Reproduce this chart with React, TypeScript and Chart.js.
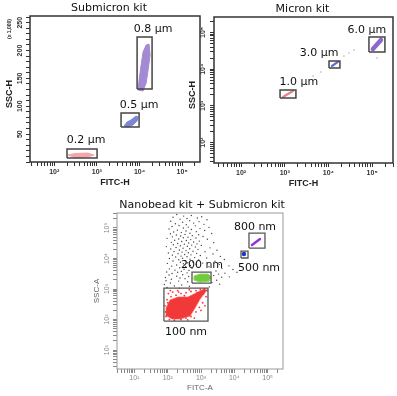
import React, { useEffect, useRef } from 'react';
import { Chart, registerables } from 'chart.js';

Chart.register(...registerables);

const LABEL_FONT = '"DejaVu Sans", Verdana, sans-serif';
const AXIS_FONT = '"Liberation Sans Narrow", "Liberation Sans", Arial, sans-serif';
const PLAIN_FONT = '"Liberation Sans", Arial, sans-serif';

// ---------------- Panel 1: Submicron kit ----------------
const p1Title = 'Submicron kit';
const p1XTitle = 'FITC-H';
const p1YTitle = 'SSC-H';
const p1YUnit = '(x 1,000)';
const p1XMin = 27;
const p1XMax = 262144;
const p1YMin = 0;
const p1YMax = 262;
const p1YStep = 10;
const p1XMajor = [1e2, 1e3, 1e4, 1e5];
const p1XLabels = ['10²', '10³', '10⁴', '10⁵'];
const p1YMajor = [50, 100, 150, 200, 250];
const p1YLabels = ['50', '100', '150', '200', '250'];

const p1GateNames = ['0.2 μm', '0.5 μm', '0.8 μm'];
const p1GateXMin = [199, 3690, 8770];
const p1GateXMax = [1010, 9770, 19700];
const p1GateYMin = [7.2, 62.8, 131];
const p1GateYMax = [23.3, 87.9, 224.3];
const p1LabelX = [557, 9800, 20800];
const p1LabelY = [39.5, 102, 239];

const p1Bead02X = [210, 307, 620, 857, 620, 307];
const p1Bead02Y = [12.6, 15.3, 16.1, 12.6, 9.0, 8.1];
const p1Bead05X = [4350, 5110, 6340, 8300, 9250, 8770, 7070, 5380];
const p1Bead05Y = [64.6, 71.8, 75.4, 82.5, 80.7, 73.6, 66.4, 62.8];
const p1Bead08X = [9250, 9770, 10900, 12100, 14300, 16700, 17700, 15900, 14300, 12100];
const p1Bead08Y = [129.2, 147.1, 174.1, 197.4, 209.9, 211.7, 192.0, 165.1, 141.8, 127.4];

// ---------------- Panel 2: Micron kit ----------------
const p2Title = 'Micron kit';
const p2XTitle = 'FITC-H';
const p2YTitle = 'SSC-H';
const p2XMin = 24;
const p2XMax = 300000;
const p2YMin = 28;
const p2YMax = 262144;
const p2XMajor = [1e2, 1e3, 1e4, 1e5];
const p2XLabels = ['10²', '10³', '10⁴', '10⁵'];
const p2YMajor = [1e2, 1e3, 1e4, 1e5];
const p2YLabels = ['10²', '10³', '10⁴', '10⁵'];

const p2GateNames = ['1.0 μm', '3.0 μm', '6.0 μm'];
const p2GateXMin = [780, 10300, 84500];
const p2GateXMax = [1800, 18300, 196000];
const p2GateYMin = [1650, 10800, 29300];
const p2GateYMax = [2720, 16700, 75000];
const p2LabelX = [2110, 6070, 76000];
const p2LabelY = [4490, 27500, 116000];

const p2Bead10X = [910, 1540];
const p2Bead10Y = [1750, 2550];
const p2Bead30X = [12000, 16500];
const p2Bead30Y = [12200, 15700];
const p2Bead60X = [104000, 159000];
const p2Bead60Y = [35300, 62100];
const p2DebrisX = [22600, 29500, 38400, 6740, 129000, 4420];
const p2DebrisY = [22800, 27500, 33200, 8370, 20100, 6530];

// ---------------- Panel 3: Nanobead kit + Submicron kit ----------------
const p3Title = 'Nanobead kit + Submicron kit';
const p3XTitle = 'FITC-A';
const p3YTitle = 'SSC-A';
const p3XMin = 3;
const p3XMax = 290000;
const p3YMin = 2.4;
const p3YMax = 310000;
const p3XMajor = [1e1, 1e2, 1e3, 1e4, 1e5];
const p3XLabels = ['10¹', '10²', '10³', '10⁴', '10⁵'];
const p3YMajor = [1e1, 1e2, 1e3, 1e4, 1e5];
const p3YLabels = ['10¹', '10²', '10³', '10⁴', '10⁵'];

const p3GateNames = ['100 nm', '200 nm', '500 nm', '800 nm'];
const p3GateXMin = [77, 536, 15900, 27600];
const p3GateXMax = [1620, 2000, 25800, 83400];
const p3GateYMin = [89, 1570, 10400, 22000];
const p3GateYMax = [1070, 3600, 17500, 68200];
const p3LabelX = [354, 1070, 55100, 41800];
const p3LabelY = [38.7, 6090, 4860, 107000];

const p3Bead100X = [95, 89, 117, 204, 406, 706, 1230, 1510, 933, 659, 467, 234, 135];
const p3Bead100Y = [130, 237, 434, 545, 545, 736, 995, 923, 468, 237, 130, 104, 104];
const p3Bead200X = [615, 933, 1620, 2000, 1740, 933, 615];
const p3Bead200Y = [2650, 3090, 3090, 2460, 1820, 1690, 1960];
const p3Bead500X = [19500];
const p3Bead500Y = [14000];
const p3Bead800X = [34000, 59000];
const p3Bead800Y = [27600, 43500];

// events given as decades [log10 FITC-A, log10 SSC-A]
const p3Bead100Events: [number, number][] = [
  [1.95, 2.1], [2.05, 2.0], [2.2, 1.98], [2.4, 2.0], [2.55, 2.05], [2.7, 2.1], [2.85, 2.25], [2.95, 2.4],
  [3.05, 2.55], [3.15, 2.75], [3.18, 2.95], [3.1, 3.0], [2.98, 2.98], [2.85, 2.95], [2.7, 2.92], [2.55, 2.88],
  [2.4, 2.85], [2.25, 2.8], [2.1, 2.75], [1.98, 2.65], [1.92, 2.45], [1.93, 2.25], [2.0, 2.55], [2.15, 2.9],
  [2.3, 2.95], [2.65, 2.98], [2.9, 2.6], [3.0, 2.3], [2.8, 2.05], [2.6, 1.99], [2.12, 2.18], [2.78, 2.7],
  [3.08, 2.85], [2.95, 2.8], [2.88, 2.88], [2.02, 2.85], [2.33, 2.9], [2.5, 2.78], [2.08, 2.95], [3.12, 2.45],
];
const p3DebrisEvents: [number, number][] = [
  [2.27, 5.44], [2.71, 5.41], [2.48, 5.39], [3.02, 5.37], [2.16, 5.35], [2.89, 5.33], [2.58, 5.31], [2.37, 5.29], [3.18, 5.27],
  [2.66, 5.24], [2.09, 5.22], [2.94, 5.21], [2.45, 5.19], [2.78, 5.16], [2.23, 5.14], [3.09, 5.12], [2.56, 5.11],
  [2.34, 5.08], [2.83, 5.07], [2.13, 5.05], [2.62, 5.03], [3.24, 5.02], [2.47, 5.0], [2.97, 4.98], [2.04, 4.97], [2.71, 4.95],
  [2.29, 4.93], [3.11, 4.92], [2.55, 4.9], [2.86, 4.88], [2.18, 4.87], [2.41, 4.85], [2.67, 4.83], [3.32, 4.82], [2.08, 4.81],
  [2.52, 4.79], [2.93, 4.78], [2.26, 4.77], [2.74, 4.75], [2.39, 4.74], [3.06, 4.72], [2.14, 4.71], [2.61, 4.7], [2.47, 4.68],
  [2.85, 4.67], [1.98, 4.66], [2.33, 4.64], [3.19, 4.63], [2.69, 4.62], [2.21, 4.6], [2.56, 4.59], [2.95, 4.57], [2.42, 4.56],
  [2.78, 4.54], [2.11, 4.53], [3.38, 4.52], [2.63, 4.51],
  [2.3, 4.49], [2.88, 4.48], [2.5, 4.47], [2.17, 4.45], [2.72, 4.44], [3.01, 4.43], [2.38, 4.42], [2.59, 4.4], [1.96, 4.39],
  [2.83, 4.38], [2.25, 4.36], [3.27, 4.35], [2.46, 4.34], [2.66, 4.32], [2.09, 4.31], [2.91, 4.3], [2.35, 4.28], [3.48, 4.27],
  [2.55, 4.26], [2.76, 4.24], [2.19, 4.23], [3.12, 4.22], [2.43, 4.21],
  [2.62, 4.19], [2.02, 4.18], [2.87, 4.17], [2.31, 4.16], [3.36, 4.15], [2.51, 4.13], [2.7, 4.12], [2.14, 4.11], [2.98, 4.1],
  [2.4, 4.08], [3.58, 4.07], [2.58, 4.06], [2.24, 4.05], [2.81, 4.03], [3.17, 4.02], [2.45, 4.01], [2.05, 4.0], [2.67, 3.98],
  [3.7, 3.97], [2.33, 3.96], [2.93, 3.95], [2.53, 3.93], [2.16, 3.92], [3.42, 3.91],
  [2.75, 3.89], [2.38, 3.88], [2.6, 3.86], [3.05, 3.85], [1.99, 3.84], [2.47, 3.83], [2.85, 3.81], [3.55, 3.8], [2.27, 3.79],
  [2.68, 3.77], [3.84, 3.76], [2.12, 3.75], [2.54, 3.74], [3.24, 3.73], [2.92, 3.71], [2.36, 3.7], [2.73, 3.68], [3.63, 3.67],
  [2.05, 3.66], [2.49, 3.65], [3.96, 3.64], [2.22, 3.62], [2.64, 3.61],
  [3.45, 3.59], [2.41, 3.58], [1.97, 3.56], [2.3, 3.55], [2.58, 3.53], [3.72, 3.52], [2.13, 3.51], [3.53, 3.49], [2.45, 3.47],
  [2.04, 3.46], [4.08, 3.55], [3.38, 3.44], [2.27, 3.42], [2.63, 3.41], [3.62, 3.39], [1.93, 3.38], [2.37, 3.36], [3.85, 3.4],
  [2.52, 3.34], [2.11, 3.32],
  [3.47, 3.29], [1.95, 3.27], [2.33, 3.26], [2.6, 3.24], [3.33, 3.22], [2.08, 3.2], [1.9, 3.15], [2.42, 3.13], [3.56, 3.16],
  [2.2, 3.1], [2.65, 3.09], [1.98, 3.05], [2.35, 3.03], [3.25, 3.07],
];

// ---------------- helpers ----------------
function logTickValues(min: number, max: number): number[] {
  const out: number[] = [];
  for (let e = Math.floor(Math.log10(min)); e <= Math.ceil(Math.log10(max)); e++) {
    for (let s = 1; s <= 9; s++) {
      const v = s * Math.pow(10, e);
      if (v >= min && v <= max) out.push(v);
    }
  }
  return out;
}
function linTickValues(min: number, max: number, step: number): number[] {
  const out: number[] = [];
  for (let v = min; v <= max + 1e-9; v += step) out.push(v);
  return out;
}
const pts = (xs: number[], ys: number[]) => xs.map((x, i) => ({ x, y: ys[i] }));
const ring = (xs: number[], ys: number[]) => {
  const p = pts(xs, ys);
  p.push({ x: xs[0], y: ys[0] });
  return p;
};
const fromDecades = (ev: [number, number][]) => ev.map(([a, b]) => ({ x: Math.pow(10, a), y: Math.pow(10, b) }));

const polySet = (data: any[], color: string, edge?: string) => ({
  data, showLine: true, fill: 'shape', backgroundColor: color, borderColor: edge || color,
  borderWidth: 1, pointRadius: 0, tension: 0,
});
const streakSet = (data: any[], color: string, w: number) => ({
  data, showLine: true, fill: false, borderColor: color, borderWidth: w, borderCapStyle: 'round',
  pointRadius: 0, tension: 0,
});
const dotSet = (data: any[], color: string, r: number) => ({
  data, showLine: false, pointRadius: r, backgroundColor: color, borderWidth: 0,
});
const gateSets = (xmin: number[], xmax: number[], ymin: number[], ymax: number[], color: string, w: number) =>
  xmin.map((_, i) => ({
    data: ring([xmin[i], xmax[i], xmax[i], xmin[i]], [ymin[i], ymin[i], ymax[i], ymax[i]]),
    showLine: true, fill: false, borderColor: color, borderWidth: w, pointRadius: 0, tension: 0,
  }));

type AxisSpec = { type: string; min: number; max: number; step?: number; major: number[]; labels: string[] };
type Style = {
  tickColor: string; tickFont: any; tickFontStr: string; tickPad: number;
  frameColor: string; frameWidth: number; axisTitleFont: string; axisTitleColor: string;
};

function scaleOpts(a: AxisSpec, isX: boolean, st: Style) {
  const all = a.type === 'logarithmic' ? logTickValues(a.min, a.max) : linTickValues(a.min, a.max, a.step || 10);
  return {
    type: a.type, min: a.min, max: a.max, position: isX ? 'bottom' : 'left',
    afterBuildTicks: (s: any) => { s.ticks = all.map((v) => ({ value: v, major: a.major.includes(v) })); },
    afterFit: (s: any) => { if (isX) s.height = 22; else s.width = 5; },
    ticks: {
      display: isX, autoSkip: false, maxRotation: 0, minRotation: 0, padding: st.tickPad,
      color: st.tickColor, font: st.tickFont,
      callback: (v: any) => { const i = a.major.indexOf(Number(v)); return i >= 0 ? a.labels[i] : ''; },
    },
    grid: { drawOnChartArea: false, drawTicks: true, tickLength: 4, color: st.tickColor, lineWidth: 1 },
    border: { display: false },
  };
}

type Panel = {
  id: string; title: string; titleDx: number; xTitle: string; yTitle: string; yUnit?: string;
  pad: { left: number; right: number; top: number; bottom: number };
  x: AxisSpec; y: AxisSpec; st: Style;
  gateNames: string[]; labelX: number[]; labelY: number[];
  datasets: any[]; xTitleDy: number; yTitleDx: number; yTitleDy: number; yLabelDx: number;
};

function decor(p: Panel) {
  return {
    id: 'decor_' + p.id,
    afterDraw(chart: any) {
      const { ctx, chartArea: a, scales } = chart;
      const xs = scales.x;
      const ys = scales.y;
      ctx.save();
      ctx.strokeStyle = p.st.frameColor;
      ctx.lineWidth = p.st.frameWidth;
      ctx.strokeRect(a.left, a.top, a.right - a.left, a.bottom - a.top);
      ctx.textAlign = 'center';
      ctx.textBaseline = 'middle';
      ctx.fillStyle = '#111';
      ctx.font = `11px ${LABEL_FONT}`;
      ctx.fillText(p.title, (a.left + a.right) / 2 + p.titleDx, a.top - 8);
      p.gateNames.forEach((n, i) => {
        ctx.fillText(n, xs.getPixelForValue(p.labelX[i]), ys.getPixelForValue(p.labelY[i]));
      });
      ctx.fillStyle = p.st.axisTitleColor;
      ctx.font = p.st.axisTitleFont;
      ctx.fillText(p.xTitle, (a.left + a.right) / 2, a.bottom + p.xTitleDy);
      ctx.save();
      ctx.translate(a.left - p.yTitleDx, (a.top + a.bottom) / 2 + p.yTitleDy);
      ctx.rotate(-Math.PI / 2);
      ctx.fillText(p.yTitle, 0, 0);
      ctx.restore();
      if (p.yUnit) {
        ctx.save();
        ctx.font = `bold 5px ${AXIS_FONT}`;
        ctx.translate(a.left - p.yTitleDx, a.top + 13);
        ctx.rotate(-Math.PI / 2);
        ctx.fillText(p.yUnit, 0, 0);
        ctx.restore();
      }
      ctx.font = p.st.tickFontStr;
      ctx.fillStyle = p.st.tickColor;
      p.y.major.forEach((v, i) => {
        ctx.save();
        ctx.translate(a.left - p.yLabelDx, ys.getPixelForValue(v));
        ctx.rotate(-Math.PI / 2);
        ctx.fillText(p.y.labels[i], 0, 0);
        ctx.restore();
      });
      ctx.restore();
    },
  };
}

function makeChart(canvas: HTMLCanvasElement, p: Panel) {
  return new Chart(canvas as any, {
    type: 'scatter',
    data: { datasets: p.datasets },
    options: {
      animation: false, responsive: false, devicePixelRatio: 1, events: [],
      layout: { padding: p.pad },
      plugins: { legend: { display: false }, tooltip: { enabled: false }, title: { display: false } },
      scales: { x: scaleOpts(p.x, true, p.st), y: scaleOpts(p.y, false, p.st) } as any,
    } as any,
    plugins: [decor(p)],
  } as any);
}

const darkStyle: Style = {
  tickColor: '#333', tickFont: { family: AXIS_FONT, size: 7, weight: 'bold' },
  tickFontStr: `bold 7px ${AXIS_FONT}`, tickPad: 2,
  frameColor: '#333', frameWidth: 1.5, axisTitleFont: `bold 9px ${AXIS_FONT}`, axisTitleColor: '#222',
};
const greyStyle: Style = {
  tickColor: '#888', tickFont: { family: PLAIN_FONT, size: 7 },
  tickFontStr: `7px ${PLAIN_FONT}`, tickPad: 1,
  frameColor: '#999', frameWidth: 1, axisTitleFont: `8px ${PLAIN_FONT}`, axisTitleColor: '#666',
};

const panel1: Panel = {
  id: 'p1', title: p1Title, titleDx: -6, xTitle: p1XTitle, yTitle: p1YTitle, yUnit: p1YUnit,
  pad: { left: 25, right: 197, top: 16, bottom: 212 },
  x: { type: 'logarithmic', min: p1XMin, max: p1XMax, major: p1XMajor, labels: p1XLabels },
  y: { type: 'linear', min: p1YMin, max: p1YMax, step: p1YStep, major: p1YMajor, labels: p1YLabels },
  st: darkStyle, gateNames: p1GateNames, labelX: p1LabelX, labelY: p1LabelY,
  xTitleDy: 21, yTitleDx: 20, yTitleDy: 5, yLabelDx: 10,
  datasets: [
    ...gateSets(p1GateXMin, p1GateXMax, p1GateYMin, p1GateYMax, '#444', 1.5),
    polySet(ring(p1Bead02X, p1Bead02Y), '#f4a4aa'),
    polySet(ring(p1Bead05X, p1Bead05Y), '#7c86d6'),
    polySet(ring(p1Bead08X, p1Bead08Y), '#a38ad2'),
  ],
};

const panel2: Panel = {
  id: 'p2', title: p2Title, titleDx: -1, xTitle: p2XTitle, yTitle: p2YTitle,
  pad: { left: 209, right: 4, top: 17, bottom: 211 },
  x: { type: 'logarithmic', min: p2XMin, max: p2XMax, major: p2XMajor, labels: p2XLabels },
  y: { type: 'logarithmic', min: p2YMin, max: p2YMax, major: p2YMajor, labels: p2YLabels },
  st: darkStyle, gateNames: p2GateNames, labelX: p2LabelX, labelY: p2LabelY,
  xTitleDy: 21, yTitleDx: 21, yTitleDy: 5, yLabelDx: 11,
  datasets: [
    ...gateSets(p2GateXMin, p2GateXMax, p2GateYMin, p2GateYMax, '#444', 1.5),
    streakSet(pts(p2Bead10X, p2Bead10Y), '#ec7f8c', 2.2),
    streakSet(pts(p2Bead30X, p2Bead30Y), '#5f6fd0', 2.2),
    streakSet(pts(p2Bead60X, p2Bead60Y), '#8d68c9', 4.5),
    dotSet(pts(p2DebrisX, p2DebrisY), '#aaa', 0.8),
  ],
};

const panel3: Panel = {
  id: 'p3', title: p3Title, titleDx: 2, xTitle: p3XTitle, yTitle: p3YTitle,
  pad: { left: 112, right: 114, top: 213, bottom: 5 },
  x: { type: 'logarithmic', min: p3XMin, max: p3XMax, major: p3XMajor, labels: p3XLabels },
  y: { type: 'logarithmic', min: p3YMin, max: p3YMax, major: p3YMajor, labels: p3YLabels },
  st: greyStyle, gateNames: p3GateNames, labelX: p3LabelX, labelY: p3LabelY,
  xTitleDy: 19, yTitleDx: 20, yTitleDy: 0, yLabelDx: 10,
  datasets: [
    ...gateSets(p3GateXMin, p3GateXMax, p3GateYMin, p3GateYMax, '#555', 1.3),
    streakSet(pts(p3Bead800X, p3Bead800Y), '#9933cc', 2.5),
    dotSet(pts(p3Bead500X, p3Bead500Y), '#2233cc', 2.2),
    polySet(ring(p3Bead200X, p3Bead200Y), '#6fcc3a', '#8ad65a'),
    dotSet(fromDecades(p3Bead100Events), '#ff3030', 0.9),
    polySet(ring(p3Bead100X, p3Bead100Y), 'rgba(240,30,30,0.88)', 'rgba(255,80,80,0.7)'),
    dotSet(fromDecades(p3DebrisEvents), '#444', 0.7),
  ],
};

export default function App() {
  const r1 = useRef<HTMLCanvasElement>(null);
  const r2 = useRef<HTMLCanvasElement>(null);
  const r3 = useRef<HTMLCanvasElement>(null);
  useEffect(() => {
    const charts = [
      makeChart(r1.current!, panel1),
      makeChart(r2.current!, panel2),
      makeChart(r3.current!, panel3),
    ];
    return () => charts.forEach((c) => c.destroy());
  }, []);
  const cs: React.CSSProperties = { position: 'absolute', left: 0, top: 0 };
  return (
    <div style={{ position: 'fixed', left: 0, top: 0, width: 397, height: 396, background: '#fff' }}>
      <canvas ref={r1} width={397} height={396} style={cs} />
      <canvas ref={r2} width={397} height={396} style={cs} />
      <canvas ref={r3} width={397} height={396} style={cs} />
    </div>
  );
}
